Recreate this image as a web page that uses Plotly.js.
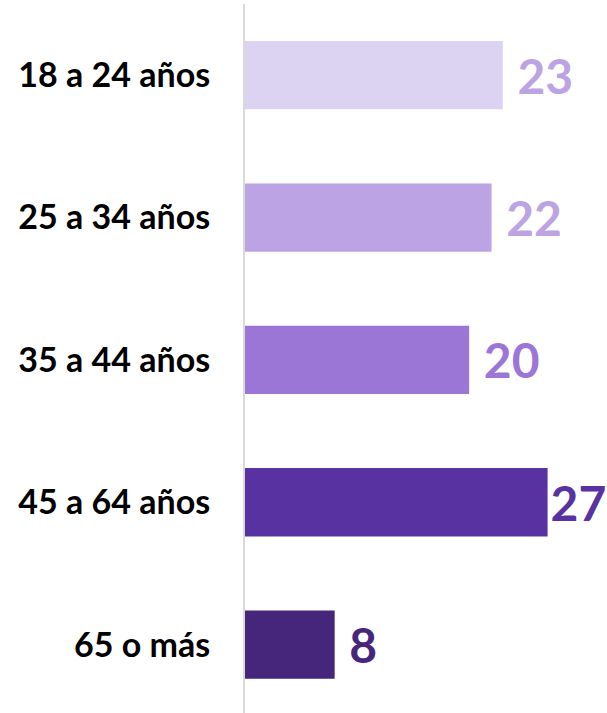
<!DOCTYPE html>
<html>
<head>
<meta charset="utf-8">
<script src="https://cdn.plot.ly/plotly-3.0.1.min.js"></script>
<style>
  html, body { margin: 0; padding: 0; background: #ffffff; }
  #chart { width: 607px; height: 713px; }
</style>
</head>
<body>
<div id="chart"></div>
<script>
const categories = ["18 a 24 años", "25 a 34 años", "35 a 44 años", "45 a 64 años", "65 o más"];
const values = [23, 22, 20, 27, 8];
const barColors = ["#dcd2f1", "#bca3e3", "#9b76d6", "#5832a1", "#45267a"];
const labelColors = ["#bca3e3", "#bca3e3", "#9b76d6", "#5832a1", "#45267a"];
// label templates (the longest bar's label sits closer to its bar, as in the original)
const labelTemplates = ["\u00a0%{x}", "\u00a0%{x}", "\u00a0%{x}", "%{x}", "\u00a0%{x}"];

const trace = {
  type: "bar",
  orientation: "h",
  y: categories,
  x: values,
  marker: { color: barColors },
  texttemplate: labelTemplates,
  textposition: "outside",
  cliponaxis: false,
  textfont: { family: "Lato", size: 48, weight: "bold", color: labelColors },
  hoverinfo: "none"
};

const layout = {
  width: 607,
  height: 713,
  margin: { l: 245, r: 0, t: 4, b: 0, pad: 0 },
  paper_bgcolor: "#ffffff",
  plot_bgcolor: "#ffffff",
  showlegend: false,
  bargap: 0.52,
  xaxis: {
    range: [0, 32.3],
    visible: false,
    showgrid: false,
    zeroline: false,
    fixedrange: true
  },
  yaxis: {
    type: "category",
    range: [4.48, -0.5],
    showline: true,
    linecolor: "#d9d9d9",
    linewidth: 2,
    showgrid: false,
    zeroline: false,
    ticks: "outside",
    ticklen: 26,
    tickcolor: "rgba(0,0,0,0)",
    tickfont: { family: "Lato", size: 34, weight: "bold", color: "#000000" },
    fixedrange: true
  }
};

Plotly.newPlot("chart", [trace], layout, { displayModeBar: false, staticPlot: true });
</script>
</body>
</html>
